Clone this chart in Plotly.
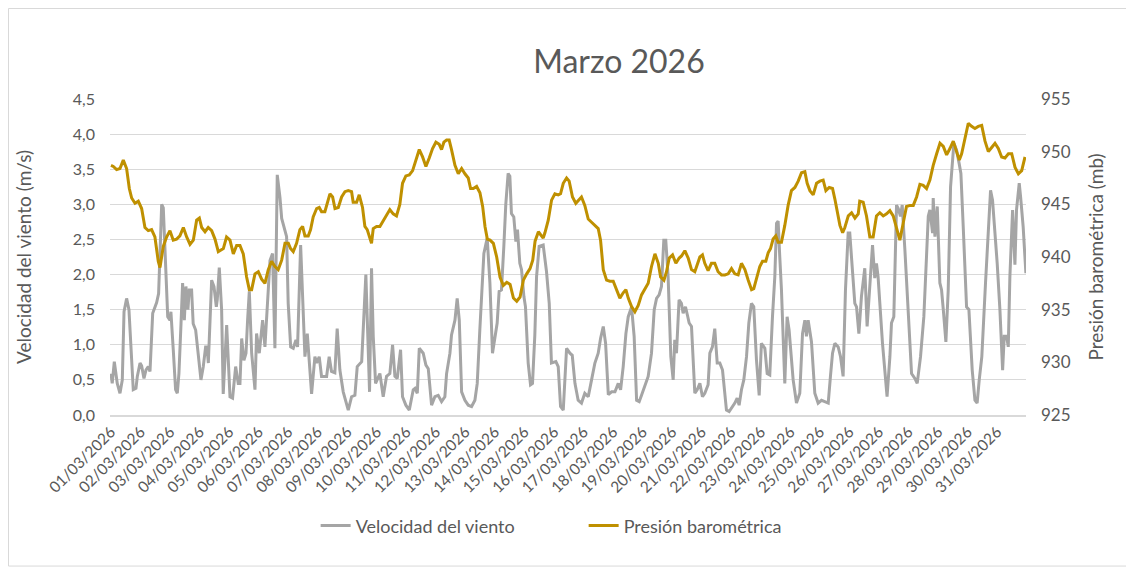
import pandas as pd
import plotly.graph_objects as go

# horas desde 01/03/2026 00:00 y valores
horas_viento = [0, 1, 2.7, 5.1, 7.3, 9.2, 10.6, 12.7, 14.6, 16.2, 18.1, 20.3, 21.4, 23.6, 24.9, 26.8, 28.4, 30.3, 31.7, 33.9,
                35.7, 37.1, 38.7, 41.2, 42.5, 44.7, 46.1, 47.9, 48.7, 50.6, 52.5, 53.9, 55.2, 56.9, 58.2, 59.6, 60.9, 62.5, 63.6, 65.5,
                66.8, 68.8, 70.4, 73.1, 75, 76.9, 78, 79.1, 81.8, 83.7, 85.6, 86.4, 88, 89.9, 91.2, 93.2, 94, 96.7,
                98.8, 101.3, 103.4, 104.8, 106.2, 108, 109.7, 111, 112.4, 114.3, 117, 118.3, 120.5, 123.2, 125.1, 129.2, 131.3, 133.2,
                135.1, 137.3, 138.7, 142.7, 144, 146, 148.1, 150.3, 151.6, 154.1, 157.6, 159.5, 163, 165.7, 167.1, 169.2, 171.1, 175.2,
                177.3, 179.2, 181.9, 183.8, 186, 188.7, 192.8, 195.5, 198.2, 200.1, 203.7, 207.1, 210.1, 211.7, 213.1, 215,
                218.5, 221.2, 223.9, 226.6, 228.8, 230.7, 232.6, 235.3, 236.9, 239.6, 242.4, 245.6, 247, 248.9, 250.5, 253.7, 255.9,
                257.8, 260.5, 263.2, 265.9, 268.6, 271.3, 272.7, 275.4, 276.7, 279.5, 281.3, 283, 284.9, 287.6, 290.3, 293, 295.7,
                297.6, 299.7, 303, 305.7, 307.9, 310, 311.9, 313.8, 315.4, 317.3, 319.2, 320.8, 322.7, 324.1, 325.4, 327.3, 329,
                330.3, 332.2, 333.6, 335.5, 336.8, 339, 340.9, 342.5, 344.4, 345.8, 347.9,
                351.2, 353.9, 356.1, 357.9, 361.5, 363.4, 365.3, 367.5, 370.2, 372.9, 374.8, 377, 379.6, 382.3, 385, 387.8, 390.5,
                393.2, 395.9, 397.8, 400, 401.9, 404.1, 406.8, 409.5, 412.2, 414.1, 416.2, 418.4, 420.3, 423, 425.1, 427.1, 429.2,
                431.1, 434.6, 436.5, 439.2, 441.4, 443.3, 445.4, 447.3, 449.2, 450.8, 452.7, 454.9, 456.8, 458.1, 459.5, 461.6,
                463.5, 464.9, 466.8, 468.4, 469.8, 471.7, 473, 474.4, 476.3, 478.5,
                480.6, 482.5, 485.2, 486.6, 488.7, 490.6, 492.6, 494.7, 496.9, 498, 500.1, 502.3, 504.2, 506.9, 508.8, 510.4, 512.3,
                514.2, 516.4, 518.3, 520.4, 522.3, 524.5, 526.7, 528.5, 531.3, 533.2, 535.3, 537.5, 539.4, 540.8, 542.1, 543.4,
                544.8, 547.5, 549.4, 551, 554.3, 557, 559.7, 561.9, 563.8, 565.1, 566.5, 569.2, 571.9, 574.6, 577.3, 580, 582.8,
                584.6, 586.3, 588.2, 590.9, 592.8, 594.9, 596.8, 599, 600.3, 602.5, 604.4, 605.8, 607.7,
                609.8, 611.2, 612.5, 614.4, 616.6, 618.8, 620.6, 622, 623.3, 625.2, 626.9, 630.6, 632.9, 634.2, 636.1, 638.3, 639.7,
                641.5, 642.9, 645.1, 647.8, 650.5, 653.2, 655.1, 657.8, 660.5, 664.1, 665.4, 667.6, 668.1, 669.5, 671.4, 673.5,
                674.9, 676.3, 678.4, 680.3, 682.2, 684.9, 687.1, 689.2, 690.6, 692.5, 695.2, 697.1, 699.8, 702, 703.8, 705.5, 707.6,
                710.6, 712.8, 714.7, 716.3, 718.2, 720.1, 722.3, 724.5, 725.8, 727.7, 729.1, 730.4, 732.6, 734.5, 735.8, 738, 739.1,
                741.2, 743.4]
viento = [0.59, 0.45, 0.76, 0.45, 0.31, 0.5, 1.47, 1.66, 1.5, 1.02, 0.36, 0.38, 0.55, 0.74, 0.7, 0.52, 0.64, 0.69, 0.62, 1.45,
          1.55, 1.6, 1.73, 3.0, 2.95, 1.97, 1.4, 1.35, 1.47, 0.93, 0.36, 0.31, 0.59, 1.3, 1.88, 1.35, 1.83, 1.5, 1.78, 1.78,
          1.3, 1.21, 0.93, 0.5, 0.69, 0.97, 0.97, 0.74, 1.92, 1.83, 1.54, 1.65, 2.1, 1.5, 0.3, 1.0, 1.28, 0.26,
          0.24, 0.69, 0.45, 0.45, 1.09, 0.78, 0.88, 1.35, 1.76, 0.88, 0.36, 1.16, 0.88, 1.35, 0.97, 2.2, 2.3, 0.95,
          3.42, 3.1, 2.8, 2.54, 1.59, 0.97, 0.95, 1.07, 0.97, 2.42, 0.83, 1.16, 0.3, 0.83, 0.74, 0.83, 0.55, 0.55,
          0.83, 0.62, 0.6, 1.23, 0.64, 0.33, 0.07, 0.26, 0.28, 0.69, 0.76, 2.0, 0.33, 2.09, 1.12, 0.45,
          0.59, 0.26, 0.55, 0.59, 1.0, 0.55, 0.52, 0.93, 0.26, 0.14, 0.07, 0.36, 0.38, 0.31, 0.95, 0.88, 0.71,
          0.66, 0.14, 0.26, 0.28, 0.19, 0.26, 0.59, 0.88, 1.14, 1.35, 1.66, 1.35, 0.33, 0.21, 0.14, 0.12, 0.21,
          0.45, 1.21, 2.3, 2.52, 1.88, 0.88, 1.12, 1.31, 1.76, 1.78, 2.4, 3.0, 3.44, 3.4, 2.87, 2.82, 2.47,
          2.64, 2.16, 2.07, 1.69, 1.54, 0.74, 0.43, 0.45, 1.14, 1.97, 2.4,
          2.42, 2.04, 1.59, 0.74, 0.76, 0.69, 0.12, 0.07, 0.95, 0.88, 0.85, 0.45, 0.21, 0.17, 0.31, 0.26, 0.5,
          0.74, 0.88, 1.09, 1.26, 1.02, 0.29, 0.33, 0.33, 0.45, 0.36, 0.69, 1.16, 1.4, 1.54, 1.12, 0.21, 0.19,
          0.28, 0.45, 0.55, 0.88, 1.5, 1.66, 1.71, 1.83, 2.49, 2.49, 1.97, 0.83, 0.5, 1.07, 0.88, 1.64,
          1.59, 1.45, 1.54, 1.42, 1.31, 1.26, 0.83, 0.31, 0.36, 0.45,
          0.26, 0.31, 0.43, 0.88, 0.97, 1.23, 0.74, 0.74, 0.64, 0.45, 0.07, 0.05, 0.1, 0.17, 0.24, 0.14, 0.36,
          0.5, 0.83, 1.31, 1.59, 1.54, 0.78, 0.28, 1.02, 0.95, 0.59, 0.57, 1.4, 1.97, 2.73, 2.76, 2.26,
          1.78, 0.45, 1.4, 1.21, 0.5, 0.17, 0.31, 1.16, 1.35, 1.12, 1.35, 1.04, 0.31, 0.17, 0.21, 0.19, 0.17,
          0.55, 0.88, 1.02, 0.97, 0.83, 0.55, 1.78, 2.59, 2.59, 2.0, 1.59, 1.54, 1.16,
          1.69, 1.88, 2.09, 1.26, 1.78, 2.42, 1.95, 2.16, 1.97, 1.48, 1.02, 0.26, 0.83, 1.31, 1.4, 2.99, 2.94,
          2.83, 2.99, 2.35, 1.4, 0.59, 0.52, 0.45, 0.83, 1.4, 2.83, 2.92, 2.59, 3.09, 2.54, 2.97, 1.88,
          1.78, 1.5, 1.04, 1.78, 3.25, 3.87, 3.77, 3.58, 3.44, 2.68, 1.54, 1.5, 0.64, 0.21, 0.17, 0.5, 0.83,
          1.88, 2.64, 3.2, 3.06, 2.64, 2.16, 1.5, 0.64, 1.12, 1.12, 0.97, 1.97, 2.92, 2.14, 2.92, 3.3, 3.11,
          2.68, 2.02]

horas_presion = [0, 1.9, 4.6, 7.3, 10, 12.7, 14.9, 16.8, 19.5, 22.2, 24.9, 27.6, 30.3, 33, 35.7, 38.4, 39.8, 42.5, 45.2, 47.9,
                 50.6, 53.3, 56, 58.8, 61.5, 64.2, 66.9, 69.6, 71.8, 73.7, 76.4, 79, 81.8, 84.5, 87.2,
                 91.3, 93.9, 96.7, 99.4, 102.1, 104.8, 107.5, 110.2, 112.4, 114.3, 117, 119.7, 122.4, 125.1, 127.8, 130.5, 133.2,
                 135.9, 138.7, 141.4, 144.1, 145.9, 148.1, 150.8, 153.5, 155.7, 157.6, 160.3, 162.2, 164.3, 167.1, 169.2, 171.1,
                 173.8, 175.7, 177.9, 180.1, 182, 184.7, 187.4, 190.1, 192.8, 195.5, 196.8, 199.6, 201.7, 204.4, 206.3, 208.2,
                 210.4, 211.7, 213.1, 215.8,
                 218.5, 221.2, 223.9, 226.6, 229.3, 232, 234.7, 236.9, 239.6, 242.4, 245.1, 247.8, 250.5, 253.2, 255.9, 258.6,
                 261.3, 264, 266.7, 268.6, 270.5, 272.7, 274.8, 276.7, 279.5, 282.2, 284.9, 287.6, 290.3, 292.2, 294.4, 297.1,
                 299.8, 302, 303.9, 305.8, 308, 310.7, 313.4, 316.1, 318.8, 321.6, 324.3, 327, 329.7, 332.4, 335.1, 337.8, 340.5,
                 342.7, 344.6, 347.3,
                 351.2, 352.6, 355.3, 358, 360.7, 363.4, 365.3, 367.5, 370.2, 372.3, 375, 377.7, 380.4, 382.3, 385, 387.8, 390.5,
                 393.2, 395.9, 397.8, 400, 402.7, 405.4, 408.1, 410.8, 413.5, 416.2, 418.4, 420.3, 423, 425.7, 428.4, 431.1, 433.8,
                 436.5, 439.2, 442, 444.7, 446.6, 449.3, 451.4, 453.6, 456.3, 459, 461.7, 463.6, 466.3, 469, 471.7, 474.4, 477.1,
                 478.5, 480.6, 482.5, 485.2, 487.9, 490.6, 493.3, 496.1, 498.8, 501.5, 504.2, 506.9, 509.6, 512.3, 515.1, 517.8,
                 520.5, 522.3, 524.5, 527.2, 529.4, 532.1, 534, 535.9, 538, 540.2, 542.1, 544.8, 547.5, 550.2, 552.9, 555.7, 558.4,
                 561.1, 563.8, 565.7, 567.9, 570.6, 573.3, 576, 578.7, 580.9, 583.6, 586.3, 588.2, 590.1, 592.3, 594.5, 596.3,
                 599.1, 601.8, 604.5, 607.2,
                 608.4, 611.2, 613.9, 616.6, 619.3, 622, 624.7, 627.5, 630.2, 632.9, 635.6, 638.3, 641, 643.7, 646.4, 649.2, 651.9,
                 654.6, 657.3, 660, 662.7, 665.4, 668.1, 670.9, 673.6, 676.3, 679, 681.7, 684.4, 687.1, 689.3, 691.2, 693.9, 696.6,
                 699.3, 702, 704.7, 707.5, 710.2, 712.9, 715.6, 718.3, 721, 723.7, 726.4, 729.2, 731.9, 734.6, 737.3, 740, 742.7]
presion = [948.7, 948.6, 948.3, 948.4, 949.2, 948.4, 946.5, 945.6, 945.1, 945.3, 944.6, 942.8, 942.5, 942.6, 941.9, 939.6, 939.0,
           941.0, 941.9, 942.5, 941.6, 941.7, 942.0, 942.8, 941.9, 941.2, 941.6, 943.5, 943.7, 942.8, 942.4, 942.8, 942.5,
           941.7, 940.5,
           940.8, 941.9, 941.6, 940.3, 941.1, 941.1, 940.3, 938.1, 936.9, 936.9, 938.4, 938.6, 937.9, 937.5, 938.8, 939.6,
           939.1, 938.8, 939.7, 941.3, 941.3, 940.8, 940.5, 941.3, 942.6, 942.9, 942.0, 942.0, 942.6, 943.8, 944.6, 944.7,
           944.3, 944.3, 945.2, 946.0, 945.7, 944.6, 944.7, 945.7, 946.2, 946.3, 946.2, 945.2, 945.2, 945.9, 944.7, 942.9,
           942.6, 941.8, 941.3, 942.7, 942.9,
           942.9, 943.4, 943.9, 944.5, 944.1, 943.9, 945.0, 947.0, 947.7, 947.8, 948.2, 949.1, 950.2, 949.5, 948.6, 949.4,
           950.3, 950.9, 950.7, 950.2, 950.9, 951.1, 951.1, 950.2, 948.7, 947.9, 948.4, 947.9, 947.5, 946.5, 946.5, 946.7,
           946.1, 944.8, 942.9, 941.7, 941.6, 941.3, 940.0, 938.1, 937.3, 937.6, 937.4, 936.1, 935.8, 936.2, 937.8, 938.4,
           938.9, 939.7, 941.5, 942.4,
           941.8, 942.3, 943.5, 945.4, 946.0, 945.9, 946.0, 947.0, 947.5, 947.2, 945.7, 945.1, 945.4, 945.7, 944.9, 943.6,
           943.3, 943.0, 942.7, 941.6, 938.8, 937.8, 937.7, 937.7, 936.9, 936.1, 936.6, 936.9, 936.1, 935.3, 934.8, 935.4,
           936.4, 937.0, 937.5, 939.1, 940.3, 939.4, 938.1, 937.8, 938.6, 939.9, 940.2, 939.4, 939.9, 940.1, 940.6, 939.9,
           938.8, 938.6, 939.4,
           940.0, 940.2, 939.4, 938.7, 939.4, 939.4, 938.6, 938.3, 938.3, 938.4, 938.9, 938.4, 938.3, 939.4, 938.8, 937.8,
           936.9, 937.0, 938.0, 939.1, 939.6, 939.6, 940.4, 940.8, 941.7, 942.0, 941.4, 941.4, 943.0, 944.9, 946.3, 946.6,
           947.2, 948.0, 948.1, 947.0, 946.3, 945.9, 947.0, 947.2, 947.3, 946.3, 946.6, 946.5, 945.5, 944.4, 943.0, 942.3,
           942.8, 943.9, 944.2, 943.7, 944.1,
           945.3, 945.2, 943.9, 941.9, 941.9, 943.9, 944.2, 943.9, 944.1, 944.4, 943.9, 942.7, 941.6, 943.2, 944.8, 944.9,
           944.9, 945.7, 946.9, 946.8, 946.5, 947.3, 948.7, 949.8, 950.8, 950.5, 949.7, 950.3, 951.0, 950.0, 949.2, 949.8,
           951.1, 952.7, 952.4, 952.2, 952.4, 952.5, 951.0, 950.0, 950.4, 950.8, 950.3, 949.5, 949.4, 949.8, 949.8, 948.5,
           947.9, 948.2, 949.5]

inicio = pd.Timestamp("2026-03-01")
t_viento = inicio + pd.to_timedelta(horas_viento, unit="h")
t_presion = inicio + pd.to_timedelta(horas_presion, unit="h")

gris = "#A5A5A5"
oro = "#BF9000"
texto = "#595959"
fuente = "Lato, 'Open Sans', sans-serif"

fig = go.Figure()
fig.add_trace(go.Scatter(x=t_viento, y=viento, mode="lines", name="Velocidad del viento",
                         line=dict(color=gris, width=3)))
fig.add_trace(go.Scatter(x=t_presion, y=presion, mode="lines", name="Presión barométrica",
                         line=dict(color=oro, width=3), yaxis="y2"))

# la página tiene 8 px de margen, por eso 1126x561
fig.update_layout(
    width=1126, height=561,
    margin=dict(l=102, r=108, t=91, b=154),
    paper_bgcolor="white", plot_bgcolor="white",
    separators=",.",
    font=dict(family=fuente, color=texto),
    title=dict(text="Marzo 2026", x=0.5426, xanchor="center", y=0.9037, yanchor="middle",
               font=dict(size=32, color=texto, family=fuente)),
    xaxis=dict(type="date",
               range=[inicio - pd.Timedelta(minutes=48), inicio + pd.Timedelta(hours=743.5)],
               tick0=inicio, dtick=86400000, tickformat="%d/%m/%Y", tickangle=-45,
               tickfont=dict(size=15.5, color=texto), showgrid=False,
               showline=True, linecolor="#D9D9D9", linewidth=1.5, ticks=""),
    yaxis=dict(range=[0, 4.5], dtick=0.5, tickformat=".1f", gridcolor="#D9D9D9", gridwidth=1.3,
               zeroline=False, tickfont=dict(size=16, color=texto), ticklabelstandoff=14,
               title=dict(text="Velocidad del viento (m/s)", font=dict(size=19, color=texto), standoff=36)),
    yaxis2=dict(range=[925, 955], dtick=5, overlaying="y", side="right", showgrid=False, zeroline=False,
                tickfont=dict(size=17, color=texto), ticklabelstandoff=14,
                title=dict(text="Presión barométrica (mb)", font=dict(size=19, color=texto), standoff=19)),
    legend=dict(orientation="h", x=0.2245, xanchor="left", y=-0.351, yanchor="middle",
                font=dict(size=18, color=texto), entrywidth=223),
    showlegend=True,
)

# borde del área del gráfico
fig.add_shape(type="rect", xref="paper", yref="paper", x0=-0.1108, x1=1.1168, y0=-0.478, y1=1.2864,
              line=dict(color="#D9D9D9", width=1), fillcolor="rgba(0,0,0,0)", layer="below")

fig.write_html("out.html")
